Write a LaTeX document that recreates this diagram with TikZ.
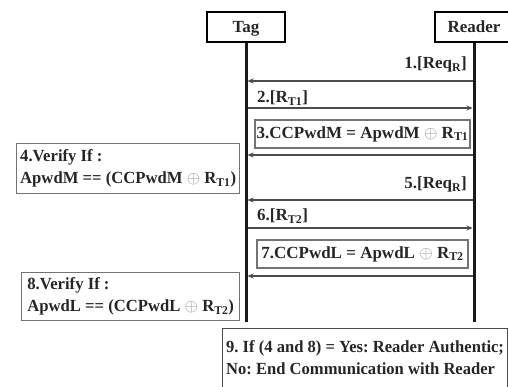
\documentclass[tikz,border=0pt]{standalone}
\usepackage{fontspec}
\setmainfont{Liberation Serif}
\newfontfamily\semifont{Liberation Serif}[FakeStretch=0.98]
\newfontfamily\ninefont{Liberation Serif}[FakeStretch=0.975]
\usetikzlibrary{arrows.meta}
\begin{document}
\frenchspacing
\begin{tikzpicture}[x=1pt,y=-1pt,
  every node/.style={font=\fontsize{17}{22}\selectfont\bfseries, text=black!85},
  actor/.style={draw=black, line width=2.5pt, minimum height=30pt, inner sep=0pt, text height=12pt, text depth=0pt},
  life/.style={line width=3pt, draw=black!90},
  msg/.style={line width=1.5pt, draw=black!70, -{Stealth[length=6pt,width=5pt]}, shorten >=1.5pt},
  calcbox/.style={draw=black!55, line width=1.3pt, inner sep=0pt, minimum height=28pt},
  verify/.style={draw=black!55, line width=1.3pt, align=left, inner xsep=0pt, inner ysep=0pt, anchor=north west,
    font=\fontsize{17}{22}\semifont\bfseries},
  lbl/.style={inner sep=0pt, anchor=base east},
  lblr/.style={inner sep=0pt, anchor=base west}
]
\useasboundingbox (0,0) rectangle (508,387);

% actors
\node[actor, minimum width=78pt] (tag) at (246,27) {Tag};
\node[actor, minimum width=78pt] (reader) at (474,27) {Reader};

% coordinates on lifelines
\coordinate (tagend) at (246,322);
\coordinate (readerend) at (474,322);
\coordinate (t1) at (246,81);  \coordinate (r1) at (474,81);
\coordinate (t2) at (246,108); \coordinate (r2) at (474,108);
\coordinate (t3) at (246,155); \coordinate (r3) at (474,155);
\coordinate (t5) at (246,200); \coordinate (r5) at (474,200);
\coordinate (t6) at (246,228); \coordinate (r6) at (474,228);
\coordinate (t7) at (246,276); \coordinate (r7) at (474,276);

% messages
\draw[msg] (r1) -- (t1);
\node[lbl] (l1) at (467,69) {1.[Req\textsubscript{R}]};
\draw[msg] (t2) -- (r2);
\node[lblr] (l2) at (257,103) {2.[R\textsubscript{T1}]};
\node[calcbox, minimum width=215pt] (b3) at (362.5,134) {3.CCPwdM = ApwdM {\color{black!45}$\oplus$} R\textsubscript{T1}};
\draw[msg] (r3) -- (t3);
\node[verify, minimum width=223pt, minimum height=50pt] (b4) at (16,143) {4.Verify If :\\ApwdM == (CCPwdM {\color{black!45}$\oplus$} R\textsubscript{T1})};
\draw[msg] (r5) -- (t5);
\node[lbl] (l5) at (467,189) {5.[Req\textsubscript{R}]};
\draw[msg] (t6) -- (r6);
\node[lblr] (l6) at (257,221) {6.[R\textsubscript{T2}]};
\node[calcbox, minimum width=211pt] (b7) at (362.5,254) {7.CCPwdL = ApwdL {\color{black!45}$\oplus$} R\textsubscript{T2}};
\draw[msg] (r7) -- (t7);
\node[verify, minimum width=218pt, minimum height=48pt] (b8) at (21,272) {8.Verify If :\\ApwdL == (CCPwdL {\color{black!45}$\oplus$} R\textsubscript{T2})};

% lifelines
\draw[life] (tag.south) -- (tagend);
\draw[life] (reader.south) -- (readerend);

% final box
\node[draw=black!70, line width=1.2pt, align=left, anchor=north west, minimum width=285pt, inner xsep=0pt, inner ysep=12pt,
  text depth=16pt, font=\fontsize{17}{22}\ninefont\bfseries] (b9) at (222,328) {9. If (4 and 8) = Yes: Reader Authentic;\\No: End Communication with Reader};
\end{tikzpicture}
\end{document}
